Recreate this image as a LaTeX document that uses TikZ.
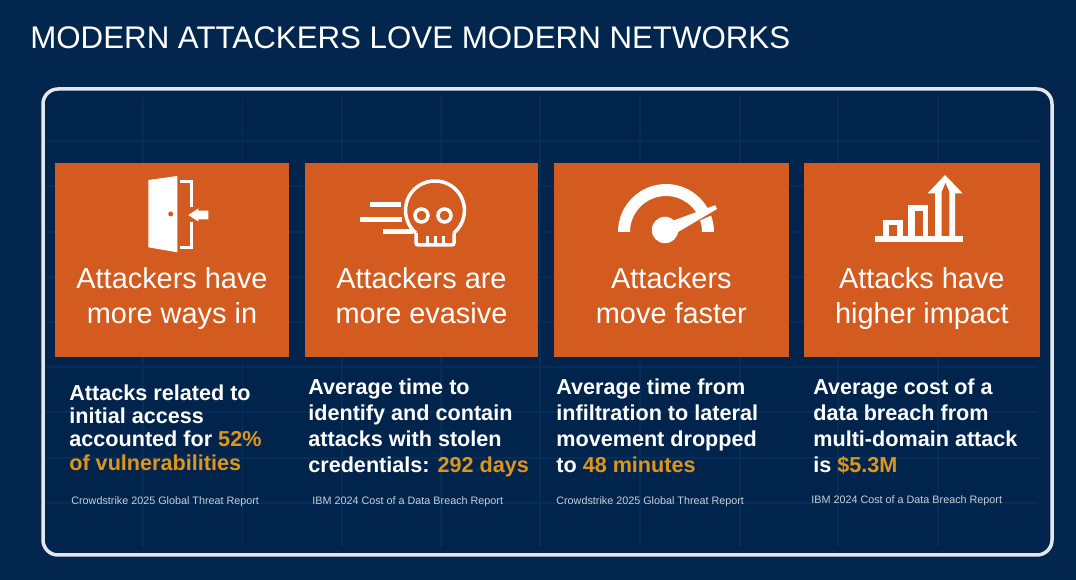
\documentclass[tikz,border=0pt]{standalone}
\usepackage{fontspec}
\setmainfont{Liberation Sans}
\usetikzlibrary{positioning}
\definecolor{navy}{HTML}{03264F}
\definecolor{panelblue}{HTML}{01244D}
\definecolor{gridblue}{HTML}{062C58}
\definecolor{cardorange}{HTML}{D35B1F}
\definecolor{statgold}{HTML}{DE951B}
\definecolor{srcgrey}{HTML}{C8CED6}
\definecolor{panelline}{HTML}{E4E7EB}
\tikzset{
  card/.style={fill=cardorange,outer sep=0pt,minimum width=4.68cm,minimum height=3.88cm,inner sep=0pt},
  cardtext/.style={text=white,align=center,text depth=5pt,font=\fontsize{16.45}{20}\selectfont},
  stat/.style={text=white,align=left,anchor=north west,inner sep=0pt,font=\bfseries\fontsize{12.3}{14.8}\selectfont},
  src/.style={text=srcgrey,anchor=west,inner sep=0pt,font=\fontsize{6.14}{8}\selectfont},
  icon/.style={fill=white,draw=none},
  iconline/.style={draw=white,line width=0.07cm}
}
\newcommand{\gold}[1]{\textcolor{statgold}{#1}}
\begin{document}
\begin{tikzpicture}[x=0.02cm,y=-0.02cm]
    \useasboundingbox (0,0) rectangle (1076,580);
    \fill[navy] (0,0) rectangle (1076,580);

    % panel with its faint grid
    \fill[panelblue,rounded corners=0.3cm] (43,89) rectangle (1052,555);
    \foreach \gx in {143,242.5,342,441,540,640,740,838,938}
      \draw[gridblue,line width=0.03cm] (\gx,97) -- (\gx,547);
    \foreach \gy in {141,186,232,277,322,367,412,458,503}
      \draw[gridblue,line width=0.03cm] (46,\gy) -- (1038,\gy);
    \draw[draw=panelline,line width=0.07cm,rounded corners=0.3cm] (43,89) rectangle (1052,555);

    \node[text=white,anchor=west,inner sep=0pt,font=\fontsize{17.8}{22}\selectfont] (title) at (30,38) {MODERN ATTACKERS LOVE MODERN NETWORKS};

    % cards
    \node[card] (card1) at (172,260) {};
    \node[card,minimum width=4.66cm,right=0.32cm of card1] (card2) {};
    \node[card,minimum width=4.7cm,right=0.32cm of card2] (card3) {};
    \node[card,minimum width=4.72cm,right=0.3cm of card3] (card4) {};

    \node[cardtext] (head1) at ([yshift=-0.8cm]card1.center) {Attackers have\\more ways in};
    \node[cardtext] (head2) at ([yshift=-0.8cm]card2.center) {Attackers are\\more evasive};
    \node[cardtext] (head3) at ([yshift=-0.8cm]card3.center) {Attackers\\move faster};
    \node[cardtext] (head4) at ([yshift=-0.8cm]card4.center) {Attacks have\\higher impact};

    % door
    \fill[icon] (148.3,180) -- (177.3,176) -- (177.3,252.3) -- (148.3,247.3) -- cycle;
    \fill[cardorange] (170.7,214) circle[radius=0.05cm];
    \draw[iconline,line width=0.05cm] (180,181.7) -- (191.7,181.7) -- (191.7,207);
    \draw[iconline,line width=0.05cm] (191.7,222) -- (191.7,247.3) -- (180,247.3);
    \fill[icon] (188.3,215) -- (198.3,208.5) -- (198.3,210.7) -- (208.3,210.7) -- (208.3,219.3) -- (198.3,219.3) -- (198.3,221.5) -- cycle;

    % skull
    \draw[iconline,line join=round] (416,233) arc[start angle=230,end angle=-50,radius=0.59cm];
    \draw[iconline,rounded corners=0.04cm] (416,233) -- (416,245) -- (454,245) -- (454,233);
    \foreach \tx in {427,435,443}
      \draw[iconline,line width=0.06cm] (\tx,236) -- (\tx,245);
    \draw[iconline] (421.5,215.5) circle[radius=0.13cm] (444.5,215.5) circle[radius=0.13cm];
    \draw[iconline,line width=0.1cm] (370,204.3) -- (401,204.3) (360,219.5) -- (402,219.5) (383,231.7) -- (413,231.7);

    % gauge
    \fill[icon] (618,232) arc[start angle=180,end angle=0,radius=0.96cm] -- (702,232) arc[start angle=0,end angle=180,radius=0.72cm] -- cycle;
    \draw[cardorange,line width=0.1cm] (684,225) -- (724,206.7);
    \fill[icon] (668,222.5) -- (715.2,205.2) -- (717,209) -- (673,235) -- cycle;
    \fill[icon] (665,230) circle[radius=0.265cm];

    % bars
    \fill[icon] (882.7,220) rectangle (903.3,238);
    \fill[cardorange] (889,225.5) rectangle (896.7,236);
    \fill[icon] (908,205) rectangle (928,238);
    \fill[cardorange] (915,210.7) rectangle (922.7,236);
    \fill[icon] (875,236) rectangle (963.3,241.7);
    \fill[icon] (945,175) -- (962.7,193.3) -- (955,193.3) -- (955,238) -- (935,238) -- (935,193.3) -- (927.7,193.3) -- cycle;
    \fill[cardorange] (941.7,236) -- (941.7,192) -- (945.5,183) -- (949.3,192) -- (949.3,236) -- cycle;

    % figures
    \node[stat,font=\bfseries\fontsize{12.3}{13.3}\selectfont] (stat1) at (69,384) {Attacks related to\\initial access\\accounted for \gold{52\%}\\\gold{of vulnerabilities}};
    \node[stat] (stat2) at (308,378) {Average time to\\identify and contain\\attacks with stolen\\credentials: \gold{292 days}};
    \node[stat] (stat3) at (556,378) {Average time from\\infiltration to lateral\\movement dropped\\to \gold{48 minutes}};
    \node[stat] (stat4) at (813,378) {Average cost of a\\data breach from\\multi-domain attack\\is \gold{\$5.3M}};

    % sources
    \node[src] (src1) at (71,502) {Crowdstrike 2025 Global Threat Report};
    \node[src] (src2) at (312,502) {IBM 2024 Cost of a Data Breach Report};
    \node[src] (src3) at (556,502) {Crowdstrike 2025 Global Threat Report};
    \node[src] (src4) at (811,501) {IBM 2024 Cost of a Data Breach Report};
\end{tikzpicture}
\end{document}
